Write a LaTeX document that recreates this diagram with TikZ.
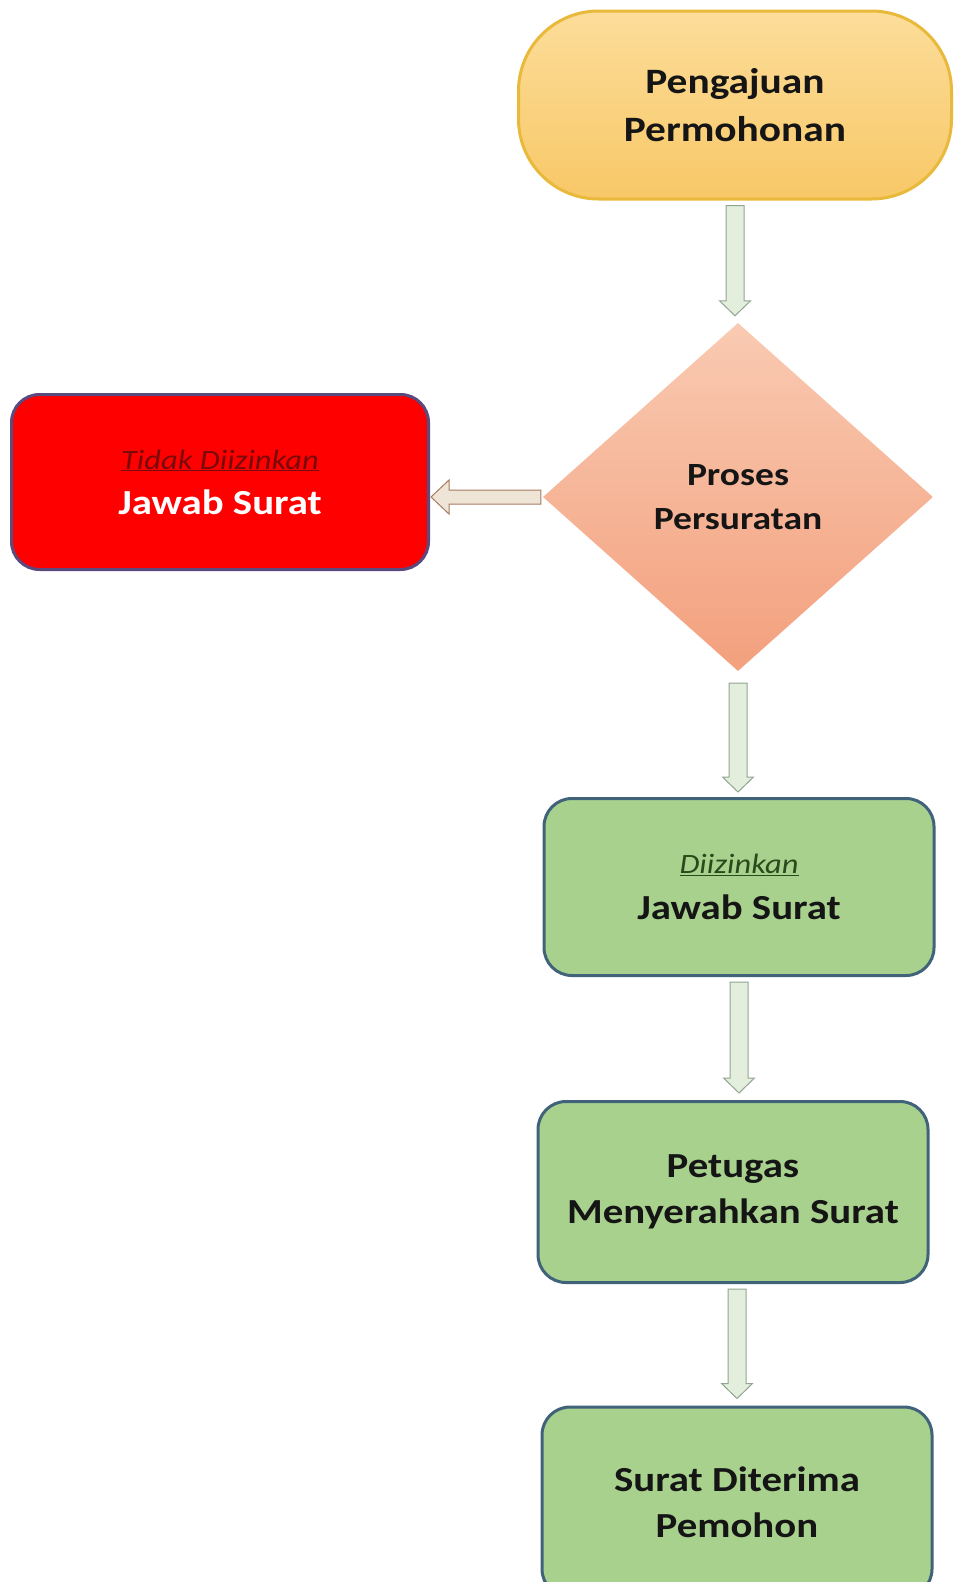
\documentclass[tikz,border=0pt]{standalone}
\usepackage{fontspec}
\setmainfont{Carlito}[FakeStretch=1.16]
\usepackage{tikz}
\usetikzlibrary{shapes.geometric,calc}

\definecolor{termtop}{HTML}{FCDD9A}
\definecolor{termbot}{HTML}{F8C867}
\definecolor{termline}{HTML}{E8B93A}
\definecolor{dectop}{HTML}{F9CAB2}
\definecolor{decbot}{HTML}{F3A07D}
\definecolor{denyfill}{HTML}{FF0000}
\definecolor{denyline}{HTML}{5A4A7E}
\definecolor{denytext}{HTML}{7A0A0A}
\definecolor{okfill}{HTML}{A9D18E}
\definecolor{okline}{HTML}{41637A}
\definecolor{oktext}{HTML}{2A4A1C}
\definecolor{arrowfill}{HTML}{E3EEDC}
\definecolor{arrowline}{HTML}{92A592}
\definecolor{backfill}{HTML}{EEE5D6}
\definecolor{backline}{HTML}{A87A62}
\definecolor{inkblack}{HTML}{151515}

\tikzset{
  terminal/.style={draw=termline, line width=3pt, rounded corners=80pt,
    top color=termtop, bottom color=termbot,
    minimum width=433pt, minimum height=188pt, align=center,
    text=inkblack, font=\fontsize{35.7}{48.5}\selectfont\bfseries},
  decision/.style={diamond, top color=dectop, bottom color=decbot,
    minimum width=390pt, minimum height=348pt, inner sep=0pt, align=center,
    text=inkblack, font=\fontsize{32.4}{43.5}\selectfont\bfseries},
  redbox/.style={draw=denyline, fill=denyfill, line width=3pt, rounded corners=28pt,
    minimum width=417pt, minimum height=175pt, align=center,
    text=white, font=\fontsize{35.2}{45}\selectfont},
  greenbox/.style={draw=okline, fill=okfill, line width=3pt, rounded corners=28pt,
    minimum width=390pt, minimum height=177pt, align=center,
    text=inkblack, font=\fontsize{35.2}{46}\selectfont\bfseries},
  % block arrow: shaft half width, head half width, head length, gaps
  blockarrow/.style n args={5}{line width=1pt,
    to path={let \p1=($(\tikztostart)!#4!(\tikztotarget)$),
      \p2=($(\tikztotarget)!#5!(\tikztostart)$),
      \p3=($(\p2)!#3!(\p1)$) in
      ($(\p1)!#1!90:(\p2)$) -- ($(\p3)!#1!90:(\p2)$) -- ($(\p3)!#2!90:(\p2)$)
      -- (\p2) -- ($(\p3)!#2!-90:(\p2)$) -- ($(\p3)!#1!-90:(\p2)$)
      -- ($(\p1)!#1!-90:(\p2)$) -- cycle}},
  downarrow/.style={blockarrow={9pt}{15.5pt}{15pt}{5pt}{7pt}, draw=arrowline, fill=arrowfill},
  backarrow/.style={blockarrow={7pt}{17pt}{18pt}{2pt}{1pt}, draw=backline, fill=backfill}
}

\begin{document}
\begin{tikzpicture}[x=1pt,y=-1pt]
    \fill[white] (0,0) rectangle (956,1582);
    \useasboundingbox (0,0) rectangle (956,1582);

    \node[terminal] (start) at (735,105) {Pengajuan\\Permohonan};
    \node[decision] (proc) at (738,497) {Proses\\Persuratan};
    \node[redbox] (deny) at (220,482)
        {{\fontsize{28}{34}\selectfont\color{denytext}\underline{\textit{Tidak Diizinkan}}}\\{\bfseries Jawab Surat}};
    \node[greenbox] (allow) at (739,887)
        {{\fontsize{28}{34}\selectfont\mdseries\color{oktext}\underline{\textit{Diizinkan}}}\\Jawab Surat};
    \node[greenbox, minimum height=181pt] (hand) at (733,1192) {Petugas\\Menyerahkan Surat};
    \node[greenbox, minimum height=190pt] (recv) at (737,1502) {Surat Diterima\\Pemohon};

    \draw[downarrow] (start.south) to (start.south |- proc.north);
    \draw[backarrow] (proc.west) to (proc.west -| deny.east);
    \draw[downarrow, blockarrow={9pt}{15.5pt}{15pt}{12pt}{5pt}] (proc.south) to (proc.south |- allow.north);
    \draw[downarrow] (allow.south) to (allow.south |- hand.north);
    \draw[downarrow] (hand.south -| recv.north) to (recv.north);
\end{tikzpicture}
\end{document}
